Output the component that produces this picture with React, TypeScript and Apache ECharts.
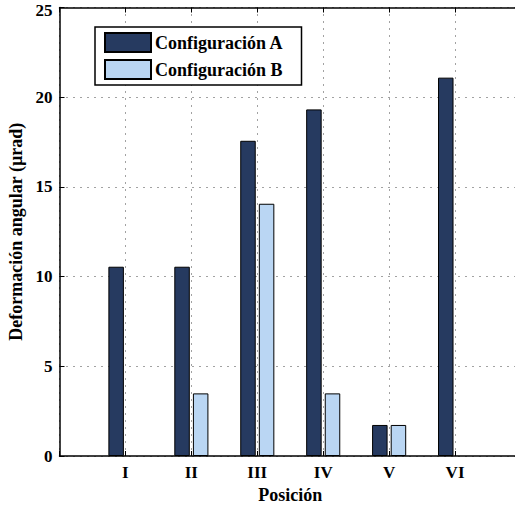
import React, { useEffect, useRef } from "react";
import * as echarts from "echarts";

const categories = ["", "I", "II", "III", "IV", "V", "VI", ""];
const seriesA = [null, 10.55, 10.55, 17.57, 19.32, 1.73, 21.09, null];
const seriesB = [null, null, 3.49, 14.06, 3.49, 1.73, null, null];
const seriesNames = ["Configuración A", "Configuración B"];
const yTicks = { min: 0, max: 25, interval: 5 };

const FONT = "Liberation Serif";

export default function App() {
  const ref = useRef<HTMLDivElement>(null);
  useEffect(() => {
    if (!ref.current) return;
    const chart = echarts.init(ref.current, null, { renderer: "svg" });
    const dotted = { color: "#444", width: 1, type: [1, 6] as any };
    const txt = { fontFamily: FONT, fontWeight: "bold" as const, fontSize: 18, color: "#000" };
    const tick = { ...txt, fontSize: 17 };
    chart.setOption({
      animation: false,
      backgroundColor: "#fff",
      textStyle: { fontFamily: FONT },
      grid: {
        left: 59.5,
        top: 7.5,
        right: -6,
        bottom: 50,
        containLabel: false,
        outerBoundsMode: "none",
      },
      legend: {
        orient: "vertical",
        left: 95,
        top: 27,
        itemWidth: 46,
        itemHeight: 19,
        itemGap: 6,
        icon: "rect",
        padding: [5, 18, 5, 9],
        borderColor: "#000",
        borderWidth: 1.5,
        backgroundColor: "#fff",
        textStyle: { ...txt, padding: [0, 0, 0, -1] },
        data: seriesNames,
      },
      xAxis: [
        {
          type: "category",
          data: categories,
          boundaryGap: false,
          name: "Posición",
          nameLocation: "middle",
          nameGap: 28,
          nameTextStyle: txt,
          axisLine: { lineStyle: { color: "#000", width: 1.5 } },
          axisTick: { show: true, inside: true, length: 5, lineStyle: { color: "#000" } },
          axisLabel: { ...tick, margin: 8, interval: 0 },
          splitLine: { show: true, lineStyle: dotted },
        },
        {
          type: "category",
          data: categories,
          boundaryGap: false,
          position: "top",
          axisLine: { lineStyle: { color: "#000", width: 1.5 } },
          axisTick: { show: true, inside: true, length: 5, lineStyle: { color: "#000" } },
          axisLabel: { show: false },
          splitLine: { show: false },
        },
      ],
      yAxis: {
        type: "value",
        min: yTicks.min,
        max: yTicks.max,
        interval: yTicks.interval,
        name: "Deformación angular (µrad)",
        nameLocation: "middle",
        nameGap: 32,
        nameTextStyle: txt,
        axisLine: { show: true, lineStyle: { color: "#000", width: 1.5 } },
        axisTick: { show: true, inside: true, length: 5, lineStyle: { color: "#000" } },
        axisLabel: {
          ...tick,
          margin: 7,
          formatter: (v: number) => (v === yTicks.max ? "{top|" + v + "}" : String(v)),
          rich: { top: { ...tick, padding: [6, 0, 0, 0] } },
        },
        splitLine: { show: true, lineStyle: dotted },
      },
      series: [
        {
          name: seriesNames[0],
          type: "bar",
          data: seriesA,
          barWidth: 15.5,
          barGap: "20%",
          itemStyle: { color: "#263a60", borderColor: "#000", borderWidth: 1 },
        },
        {
          name: seriesNames[1],
          type: "bar",
          data: seriesB,
          barWidth: 15.5,
          barGap: "20%",
          itemStyle: { color: "#bad6f3", borderColor: "#000", borderWidth: 1 },
        },
      ],
    });
    return () => chart.dispose();
  }, []);
  return (
    <div
      ref={ref}
      style={{ position: "fixed", left: 0, top: 0, width: 515, height: 506, overflow: "hidden" }}
    />
  );
}
